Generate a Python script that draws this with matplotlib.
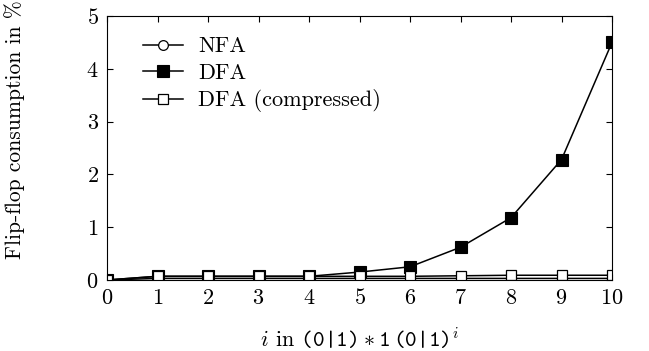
import numpy as np
import matplotlib.pyplot as plt

plt.rcParams['font.family'] = 'serif'
plt.rcParams['font.serif'] = ['cmr10']
plt.rcParams['mathtext.fontset'] = 'custom'
plt.rcParams['mathtext.rm'] = 'cmr10'
plt.rcParams['mathtext.it'] = 'cmmi10'
plt.rcParams['mathtext.tt'] = 'cmtt10'
plt.rcParams['axes.formatter.use_mathtext'] = True

i_vals = [0, 1, 2, 3, 4, 5, 6, 7, 8, 9, 10]
nfa = [0, 0.03, 0.03, 0.03, 0.03, 0.03, 0.03, 0.03, 0.03, 0.03, 0.03]
dfa = [0, 0.07, 0.07, 0.07, 0.07, 0.15, 0.25, 0.62, 1.18, 2.28, 4.5]
dfa_comp = [0, 0.07, 0.07, 0.07, 0.07, 0.07, 0.07, 0.08, 0.09, 0.09, 0.09]

fig = plt.figure(figsize=(6.49, 3.51), dpi=100)
ax = fig.add_axes([107/649, 1 - 280/351, 505/649, 264/351])

ax.plot(i_vals, nfa, color='black', lw=1.1, marker='o', ms=7, mfc='white', mec='black', mew=0.9, label='NFA')
ax.plot(i_vals, dfa, color='black', lw=1.1, marker='s', ms=8, mfc='black', mec='black', mew=0.8, label='DFA')
ax.plot(i_vals, dfa_comp, color='black', lw=1.1, marker='s', ms=7, mfc='white', mec='black', mew=0.9, label='DFA (compressed)')

ax.set_xlim(0, 10)
ax.set_ylim(0, 5)
ax.set_xticks(range(0, 11))
ax.set_yticks(range(0, 6))
ax.tick_params(direction='in', top=True, right=True, labelsize=16, length=4, width=0.8, pad=6)
for s in ax.spines.values():
    s.set_linewidth(0.8)

ax.set_xlabel(r'$i$ in $\mathtt{(0|1)}\ast\mathtt{1}\,\mathtt{(0|1)}^{i}$', fontsize=16, labelpad=12)
fig.text(15/649, 1 - 130/351, 'Flip-flop consumption in %', fontsize=15.5,
         rotation=90, ha='center', va='center')

ax.legend(loc='upper left', frameon=False, fontsize=16, handlelength=1.8, handletextpad=0.7,
          labelspacing=0.3, borderaxespad=0.3, bbox_to_anchor=(0.04, 0.98))

fig.savefig('out.png', dpi=100)
